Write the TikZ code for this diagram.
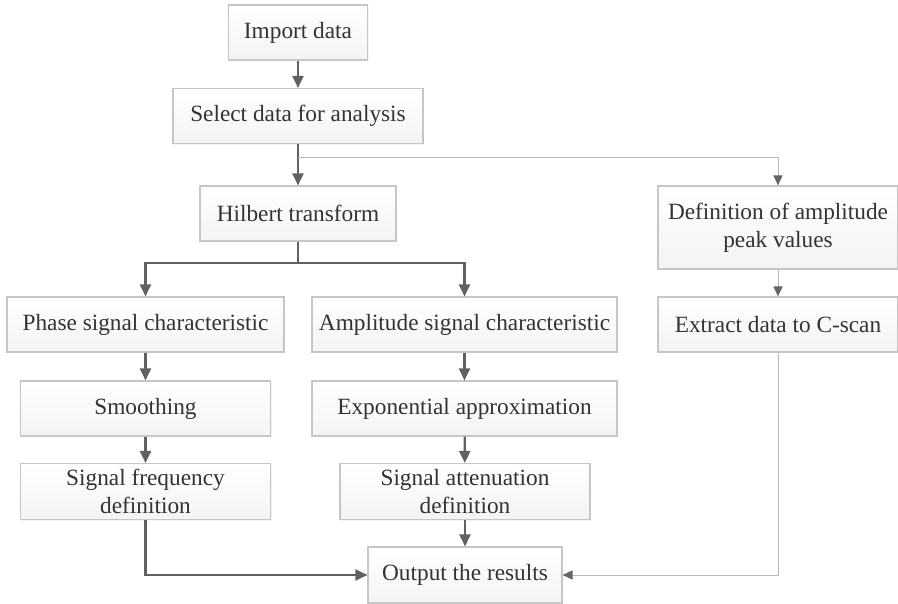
\documentclass[tikz,border=0pt]{standalone}
\usepackage{fontspec}
\setmainfont{Liberation Serif}
\usetikzlibrary{arrows.meta,positioning,shadows}

\begin{document}
\begin{tikzpicture}[
  x=1pt, y=-1pt,
  box/.style={rectangle, draw=gray!45, line width=1.1pt, top color=white, bottom color=gray!9,
    align=center, minimum height=55pt, inner sep=2pt, text=black!80,
    font=\fontsize{23.3}{28}\selectfont,
    drop shadow={shadow xshift=1.2pt, shadow yshift=-1.2pt, fill=gray!18}},
  arr/.style={-{Triangle[length=12pt,width=11pt]}, line width=2.2pt, draw=black!62},
  lin/.style={line width=2.2pt, draw=black!62},
  thinarr/.style={-{Triangle[length=10pt,width=9pt,color=black!60]}, line width=1pt, draw=gray!55}
]
\useasboundingbox (0,0) rectangle (898,604);

\node[box, minimum width=139pt] (import) at (298,32.5) {Import data};
\node[box, minimum width=250pt] (select) at (298,116) {Select data for analysis};
\node[box, minimum width=196pt] (hilbert) at (298,213.5) {Hilbert transform};
\node[box, minimum width=240pt, minimum height=83pt] (peak) at (778,227.5) {Definition of amplitude\\peak values};
\node[box, minimum width=240pt] (extract) at (778,324.5) {Extract data to C-scan};

\node[box, minimum width=277pt] (phase) at (145.5,324.5) {Phase signal characteristic};
\node[box, minimum width=250pt] (smooth) at (145.5,408.5) {Smoothing};
\node[box, minimum width=250pt, minimum height=56pt] (freq) at (145.5,491.5) {Signal frequency\\definition};

\node[box, minimum width=305pt] (ampl) at (464.5,324.5) {Amplitude signal characteristic};
\node[box, minimum width=305pt] (expo) at (464.5,408.5) {Exponential approximation};
\node[box, minimum width=250pt, minimum height=56pt] (atten) at (465,491.5) {Signal attenuation\\definition};
\node[box, minimum width=194pt, minimum height=56pt] (output) at (465,575) {Output the results};

\coordinate (fork1) at (298,158);
\coordinate (fork2) at (298,263);

\draw[arr] (import) -- (select);
\draw[arr] (select) -- (hilbert);
\draw[thinarr] (fork1) -| (peak.north);
\draw[lin] (hilbert) -- (fork2);
\draw[arr] (fork2) -| (phase.north);
\draw[arr] (fork2) -| (ampl.north);
\draw[arr] (phase) -- (smooth);
\draw[arr] (smooth) -- (freq);
\draw[arr] (ampl) -- (expo);
\draw[arr] (expo) -- (atten);
\draw[arr] (atten) -- (output);
\draw[arr] (freq.south) |- (output.west);
\draw[thinarr] (peak) -- (extract);
\draw[thinarr] (extract.south) |- (output.east);
\end{tikzpicture}
\end{document}
